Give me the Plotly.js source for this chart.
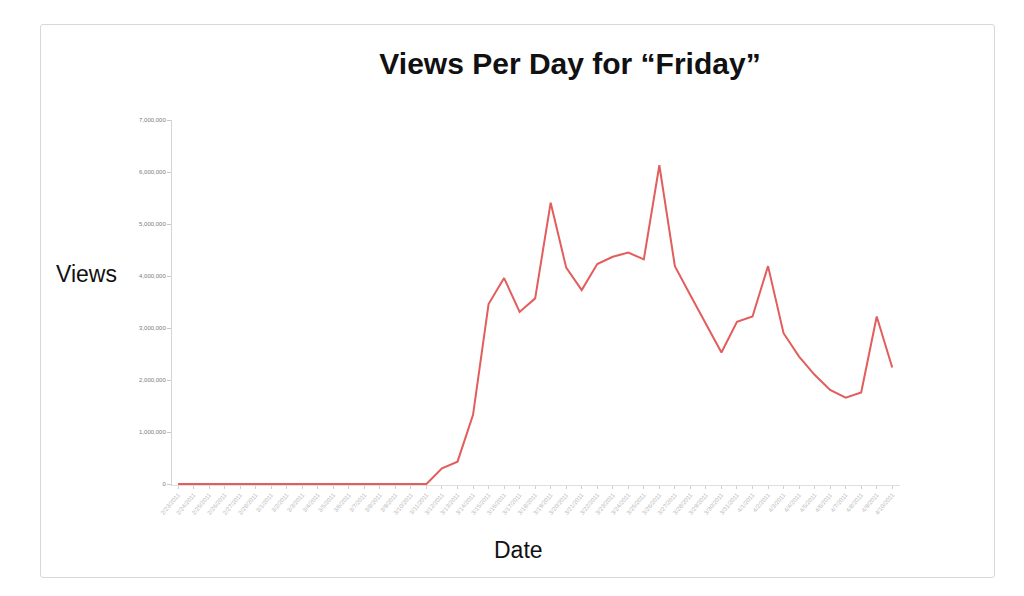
<!DOCTYPE html>
<html>
<head>
<meta charset="utf-8">
<script src="https://cdn.plot.ly/plotly-3.0.1.min.js"></script>
<style>
html,body{margin:0;padding:0;background:#fff;width:1024px;height:596px;overflow:hidden;}
#frame{position:absolute;left:40px;top:24px;width:953px;height:552px;border:1px solid #d8d8d8;border-radius:3px;}
#chart{position:absolute;left:0;top:0;width:1024px;height:596px;}
</style>
</head>
<body>
<div id="frame"></div>
<div id="chart"></div>
<script>
const dates = [
  "2/23/2011","2/24/2011","2/25/2011","2/26/2011","2/27/2011","2/28/2011","3/1/2011","3/2/2011",
  "3/3/2011","3/4/2011","3/5/2011","3/6/2011","3/7/2011","3/8/2011","3/9/2011","3/10/2011",
  "3/11/2011","3/12/2011","3/13/2011","3/14/2011","3/15/2011","3/16/2011","3/17/2011","3/18/2011",
  "3/19/2011","3/20/2011","3/21/2011","3/22/2011","3/23/2011","3/24/2011","3/25/2011","3/26/2011",
  "3/27/2011","3/28/2011","3/29/2011","3/30/2011","3/31/2011","4/1/2011","4/2/2011","4/3/2011",
  "4/4/2011","4/5/2011","4/6/2011","4/7/2011","4/8/2011","4/9/2011","4/10/2011"
];
const views = [
  0,0,0,0,0,0,0,0,0,0,0,0,0,0,0,0,0,
  300000,430000,1330000,3460000,3960000,3310000,3570000,5410000,4160000,3730000,4230000,
  4370000,4450000,4320000,6130000,4190000,3630000,3090000,2530000,3120000,3220000,4190000,
  2900000,2450000,2100000,1810000,1660000,1760000,3220000,2240000
];
const yTicks = [0,1000000,2000000,3000000,4000000,5000000,6000000,7000000];

const trace = {
  x: dates.map((d,i)=>i),
  y: views,
  type: 'scatter',
  mode: 'lines',
  line: {color:'#e25d5b', width:2},
  hoverinfo: 'skip'
};

const layout = {
  width: 1024, height: 596,
  margin: {l:172, r:124, t:120, b:111, pad:0},
  paper_bgcolor: 'rgba(0,0,0,0)',
  plot_bgcolor: '#ffffff',
  showlegend: false,
  font: {family: 'Liberation Sans, Arial, sans-serif', color:'#111'},
  title: {
    text: 'Views Per Day for \u201CFriday\u201D',
    font: {family:'Liberation Sans, Arial, sans-serif', size:30, color:'#111', weight:'bold'},
    x: 570/1024, xanchor:'center', xref:'container',
    y: 1-63/596, yanchor:'middle', yref:'container'
  },
  xaxis: {
    type:'linear',
    range:[-0.39, 46.5],
    tickmode:'array',
    tickvals: dates.map((d,i)=>i),
    ticktext: dates,
    tickangle: -50,
    tickfont:{size:6, color:'#b8b8b8'},
    ticks:'outside', ticklen:3, tickcolor:'#d0d0d0', tickwidth:1,
    showline:true, linecolor:'#dedede', linewidth:1,
    showgrid:false, zeroline:false, fixedrange:true,
    layer:'below traces'
  },
  yaxis: {
    range:[-19231,7000000],
    tickmode:'array',
    tickvals: yTicks,
    tickformat:',d',
    tickfont:{size:6, color:'#7a7a7a'},
    ticks:'outside', ticklen:4, tickcolor:'#c8c8c8', tickwidth:1,
    showline:true, linecolor:'#d4d4d4', linewidth:1,
    showgrid:false, zeroline:false, fixedrange:true,
    layer:'below traces'
  },
  annotations: [
    {text:'Views', xref:'paper', yref:'paper', x:(86-172)/728, y:(485-274)/365,
     xanchor:'center', yanchor:'middle', showarrow:false,
     font:{family:'Liberation Sans, Arial, sans-serif', size:23, color:'#111'}},
    {text:'Date', xref:'paper', yref:'paper', x:(518-172)/728, y:-(550-485)/365,
     xanchor:'center', yanchor:'middle', showarrow:false,
     font:{family:'Liberation Sans, Arial, sans-serif', size:23, color:'#111'}}
  ]
};

Plotly.newPlot('chart', [trace], layout, {displayModeBar:false, staticPlot:true});
</script>
</body>
</html>
